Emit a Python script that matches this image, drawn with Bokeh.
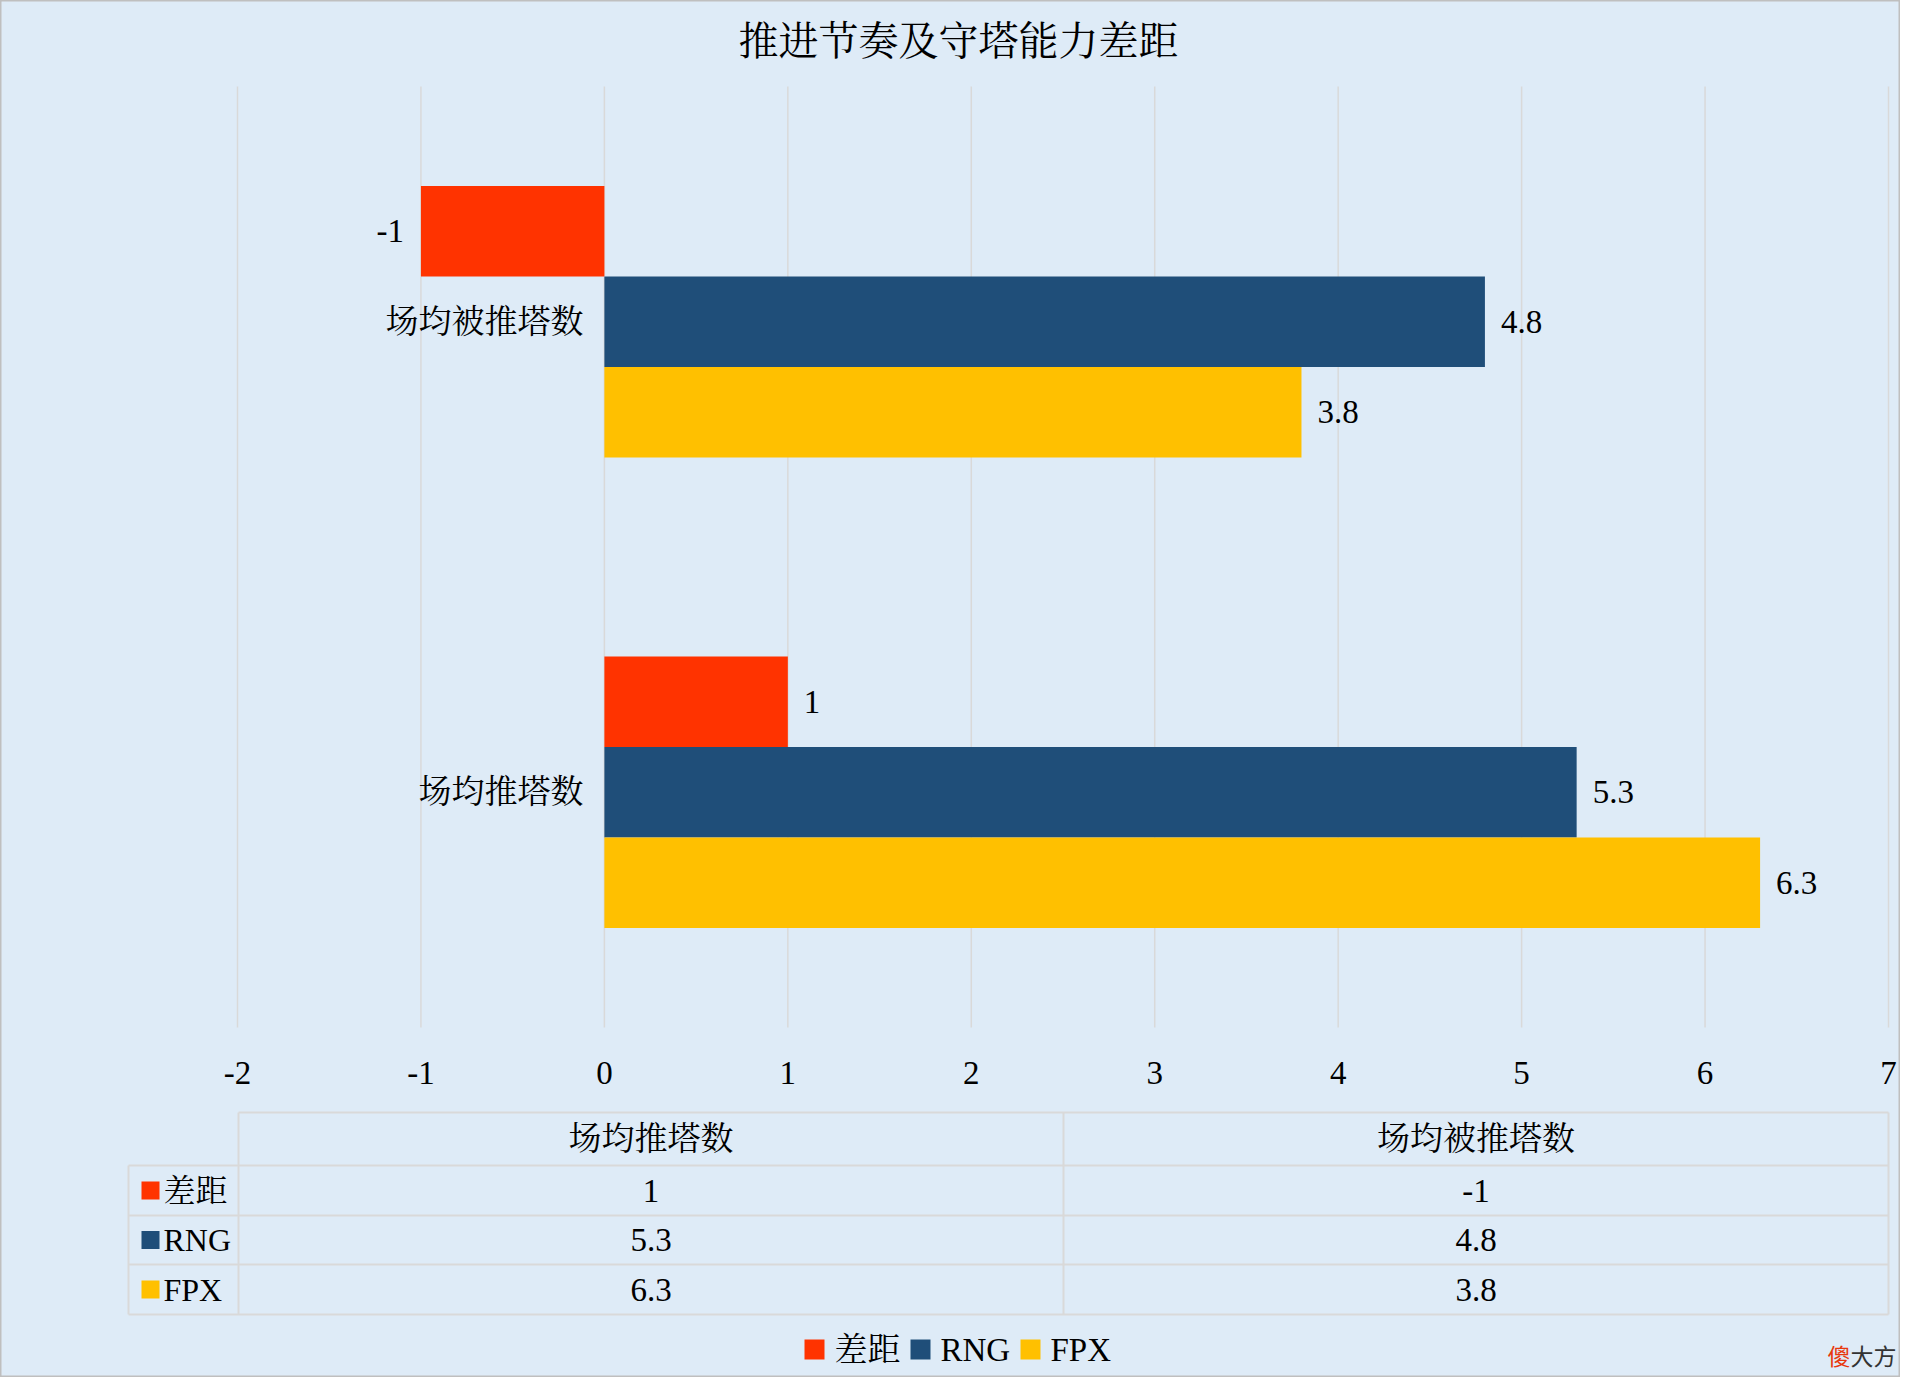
from bokeh.plotting import figure
from bokeh.models import Range1d
from bokeh.core.properties import value
from bokeh.embed import file_html
from bokeh.resources import INLINE

# ---------------- data ----------------
title_text = "推进节奏及守塔能力差距"
categories = ["场均推塔数", "场均被推塔数"]
series_names = ["差距", "RNG", "FPX"]
gap_vals = [1, -1]
rng_vals = [5.3, 4.8]
fpx_vals = [6.3, 3.8]
x_ticks = [-2, -1, 0, 1, 2, 3, 4, 5, 6, 7]
tick_labels = ["-2", "-1", "0", "1", "2", "3", "4", "5", "6", "7"]
series_colors = ["#FF3300", "#1F4E79", "#FFC000"]
watermark = ["傻", "大方"]

series_vals = [gap_vals, rng_vals, fpx_vals]

# ---------------- layout ----------------
W, H = 1900, 1377
BG = "#DEEBF7"
GRID = "#D9D9D9"
FONT = value("'Liberation Serif', 'Noto Serif CJK SC', 'Noto Sans CJK SC', serif")
CJK = value("'Noto Sans CJK SC'")
FS = "33px"

# plot area in figure pixels
PX_LEFT, PX_RIGHT = 237, 1888      # x = -2 .. 7
PX_TOP, PX_BOT = 86, 1027          # y = 2 .. 0
xmin, xmax = x_ticks[0], x_ticks[-1]
sx = (PX_RIGHT - PX_LEFT) / (xmax - xmin)
sy = (PX_BOT - PX_TOP) / len(categories)
x_start = xmin - PX_LEFT / sx
x_end = x_start + W / sx
y_end = len(categories) + PX_TOP / sy
y_start = y_end - H / sy

p = figure(width=W, height=H, output_backend="svg", toolbar_location=None,
           x_range=Range1d(x_start, x_end), y_range=Range1d(y_start, y_end),
           x_axis_type=None, y_axis_type=None, min_border=0)
p.extra_x_ranges = {"px": Range1d(0, W)}
p.extra_y_ranges = {"px": Range1d(H, 0)}
p.background_fill_color = BG
p.border_fill_color = BG
p.outline_line_color = "#BFBFBF"
p.outline_line_width = 2
PX = dict(x_range_name="px", y_range_name="px")

# title
p.text(x=[958], y=[41], text=[title_text], text_font=FONT, text_font_size="40px",
       text_align="center", text_baseline="middle", text_color="#000000", **PX)

# vertical gridlines
p.segment(x0=x_ticks, x1=x_ticks, y0=[0] * len(x_ticks), y1=[len(categories)] * len(x_ticks),
          line_color=GRID, line_width=1.5)

# tick labels
p.text(x=x_ticks, y=[0] * len(x_ticks), text=tick_labels, y_offset=45,
       text_font=FONT, text_font_size=FS, text_align="center", text_baseline="middle",
       text_color="#000000")

# bars
bar_h = 0.1924
for k, (name, vals, col) in enumerate(zip(series_names, series_vals, series_colors)):
    ys = [i + 0.5 + (1 - k) * bar_h for i in range(len(categories))]
    p.hbar(y=ys, left=0, right=vals, height=bar_h, fill_color=col, line_color=None)
    pos = [(y, v) for y, v in zip(ys, vals) if v >= 0]
    neg = [(y, v) for y, v in zip(ys, vals) if v < 0]
    if pos:
        p.text(x=[v for _, v in pos], y=[y for y, _ in pos], text=[f"{v:g}" for _, v in pos],
               x_offset=16, text_font=FONT, text_font_size=FS, text_align="left",
               text_baseline="middle", text_color="#000000")
    if neg:
        p.text(x=[v for _, v in neg], y=[y for y, _ in neg], text=[f"{v:g}" for _, v in neg],
               x_offset=-17, text_font=FONT, text_font_size=FS, text_align="right",
               text_baseline="middle", text_color="#000000")

# category labels at the zero line
p.text(x=[0] * len(categories), y=[i + 0.5 for i in range(len(categories))], text=categories,
       x_offset=-21, text_font=FONT, text_font_size=FS, text_align="right",
       text_baseline="middle", text_color="#000000")

# ---------------- data table ----------------
T_LEG, T_L, T_DIV, T_R = 128, 238, 1063, 1888
T_TOP, rows_y = 1112, [1165, 1215, 1264, 1314]
LW = 2
# horizontal lines
p.segment(x0=[T_L] + [T_LEG] * 4, x1=[T_R] * 5, y0=[T_TOP] + rows_y, y1=[T_TOP] + rows_y,
          line_color=GRID, line_width=LW, **PX)
# vertical lines
p.segment(x0=[T_LEG, T_L, T_DIV, T_R], x1=[T_LEG, T_L, T_DIV, T_R],
          y0=[rows_y[0], T_TOP, T_TOP, T_TOP], y1=[rows_y[-1]] * 4,
          line_color=GRID, line_width=LW, **PX)
col_cx = [(T_L + T_DIV) / 2, (T_DIV + T_R) / 2]
# header
p.text(x=col_cx, y=[(T_TOP + rows_y[0]) / 2] * 2, text=categories, text_font=FONT,
       text_font_size=FS, text_align="center", text_baseline="middle", text_color="#000000", **PX)
row_cy = [(rows_y[i] + rows_y[i + 1]) / 2 for i in range(3)]
for r, (name, vals, col) in enumerate(zip(series_names, series_vals, series_colors)):
    p.text(x=col_cx, y=[row_cy[r]] * 2, text=[f"{v:g}" for v in vals], text_font=FONT,
           text_font_size=FS, text_align="center", text_baseline="middle", text_color="#000000", **PX)
    p.rect(x=[150], y=[row_cy[r]], width=18, height=18, fill_color=col, line_color=None, **PX)
    p.text(x=[163], y=[row_cy[r]], text=[name], text_font=FONT, text_font_size="32px",
           text_align="left", text_baseline="middle", text_color="#000000", **PX)

# ---------------- bottom legend ----------------
LEG_Y = 1349
leg_sq_x = [814, 920, 1030]
leg_txt_x = [834, 940, 1050]
for name, col, sqx, tx in zip(series_names, series_colors, leg_sq_x, leg_txt_x):
    p.rect(x=[sqx], y=[LEG_Y], width=20, height=20, fill_color=col, line_color=None, **PX)
    p.text(x=[tx], y=[LEG_Y], text=[name], text_font=FONT, text_font_size=FS,
           text_align="left", text_baseline="middle", text_color="#000000", **PX)

# watermark
p.text(x=[1827], y=[1354], text=[watermark[0]], text_font=CJK, text_font_size="23px",
       text_align="left", text_baseline="middle", text_color="#E8380D", **PX)
p.text(x=[1850], y=[1354], text=[watermark[1]], text_font=CJK, text_font_size="23px",
       text_align="left", text_baseline="middle", text_color="#333333", **PX)

open("out.html", "w").write(file_html(p, INLINE))
